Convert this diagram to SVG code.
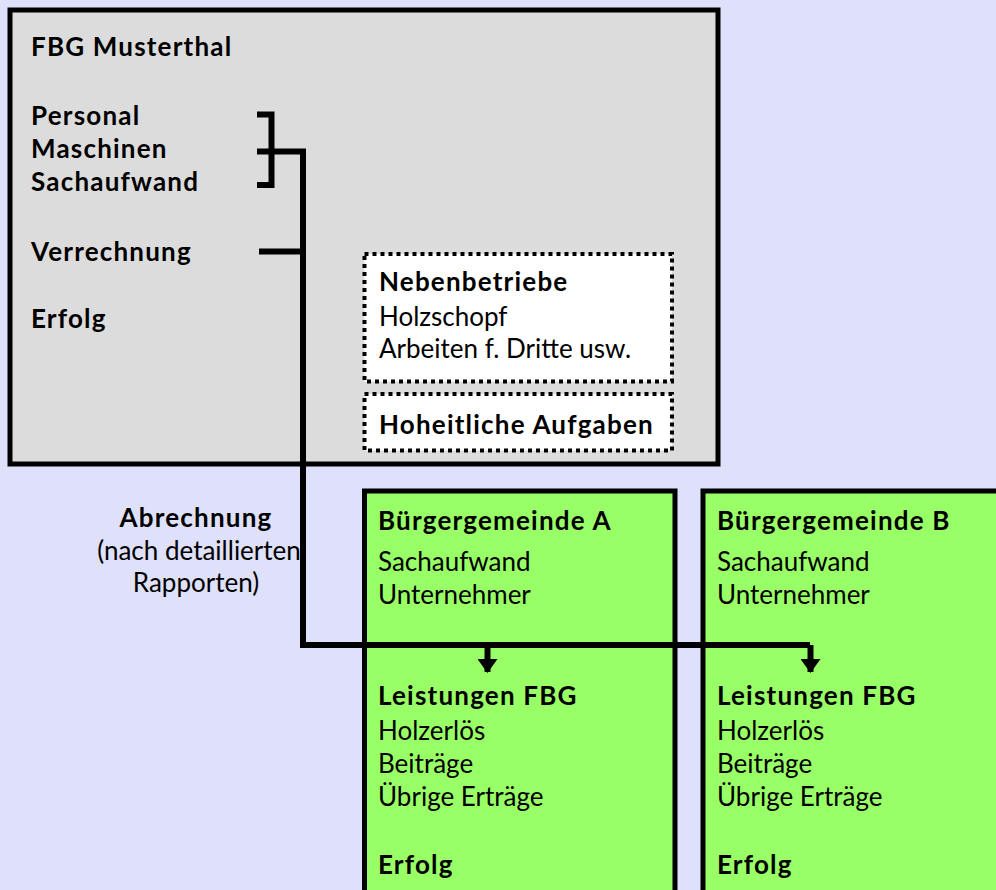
<svg xmlns="http://www.w3.org/2000/svg" width="996" height="890" viewBox="0 0 996 890">
<defs>
<style>
text{font-family:Lato,"Open Sans","DejaVu Sans",sans-serif;font-size:26px;fill:#000}
.b{font-weight:bold;letter-spacing:1.2px}
.box{stroke:#000;stroke-width:5}
.dot{fill:#fff;stroke:#000;stroke-width:4;stroke-dasharray:4 4}
.ln{fill:none;stroke:#000;stroke-width:6}
</style>
<marker id="ah" viewBox="0 0 14 20" refX="13" refY="10" markerWidth="14" markerHeight="20" markerUnits="userSpaceOnUse" orient="auto">
<path d="M0,0 L14,10 L0,20 Z" fill="#000"/>
</marker>
</defs>
<rect width="996" height="890" fill="#dfe0fa"/>
<g id="fbg">
<rect class="box" x="10" y="10" width="708" height="454" fill="#dcdcdc"/>
<text class="b" x="31" y="56">FBG Musterthal</text>
<text class="b" x="31" y="125">Personal</text>
<text class="b" x="31" y="158">Maschinen</text>
<text class="b" x="31" y="191">Sachaufwand</text>
<text class="b" x="31" y="261">Verrechnung</text>
<text class="b" x="31" y="328">Erfolg</text>
</g>
<g id="nebenbetriebe">
<rect class="dot" x="364.5" y="254" width="307.5" height="127.5"/>
<text class="b" x="379" y="291">Nebenbetriebe</text>
<text x="379" y="326">Holzschopf</text>
<text x="379" y="358">Arbeiten f. Dritte usw.</text>
</g>
<g id="hoheitlich">
<rect class="dot" x="364.5" y="394" width="307.5" height="56.5"/>
<text class="b" x="379" y="434">Hoheitliche Aufgaben</text>
</g>
<g id="bgA">
<rect class="box" x="364.5" y="491" width="310.5" height="410" fill="#99ff66"/>
<text class="b" x="378" y="530">Bürgergemeinde A</text>
<text x="378" y="571">Sachaufwand</text>
<text x="378" y="604">Unternehmer</text>
<text class="b" x="378" y="705">Leistungen FBG</text>
<text x="378" y="740">Holzerlös</text>
<text x="378" y="773">Beiträge</text>
<text x="378" y="806">Übrige Erträge</text>
<text class="b" x="378" y="874">Erfolg</text>
</g>
<g id="bgB">
<rect class="box" x="703" y="491" width="310" height="410" fill="#99ff66"/>
<text class="b" x="717" y="530">Bürgergemeinde B</text>
<text x="717" y="571">Sachaufwand</text>
<text x="717" y="604">Unternehmer</text>
<text class="b" x="717" y="705">Leistungen FBG</text>
<text x="717" y="740">Holzerlös</text>
<text x="717" y="773">Beiträge</text>
<text x="717" y="806">Übrige Erträge</text>
<text class="b" x="717" y="874">Erfolg</text>
</g>
<g id="abrechnung">
<text class="b" x="196" y="527" text-anchor="middle">Abrechnung</text>
<text x="199" y="560" text-anchor="middle">(nach detaillierten</text>
<text x="196" y="592" text-anchor="middle">Rapporten)</text>
</g>
<g id="connectors">
<path class="ln" d="M257,114.5 H271.5 V185 H257"/>
<path class="ln" d="M257,151.5 H303 V645 H810"/>
<path class="ln" d="M259,251.5 H303"/>
<path class="ln" d="M487.5,645 V672" marker-end="url(#ah)"/>
<path class="ln" d="M810.5,645 V672" marker-end="url(#ah)"/>
</g>
</svg>
